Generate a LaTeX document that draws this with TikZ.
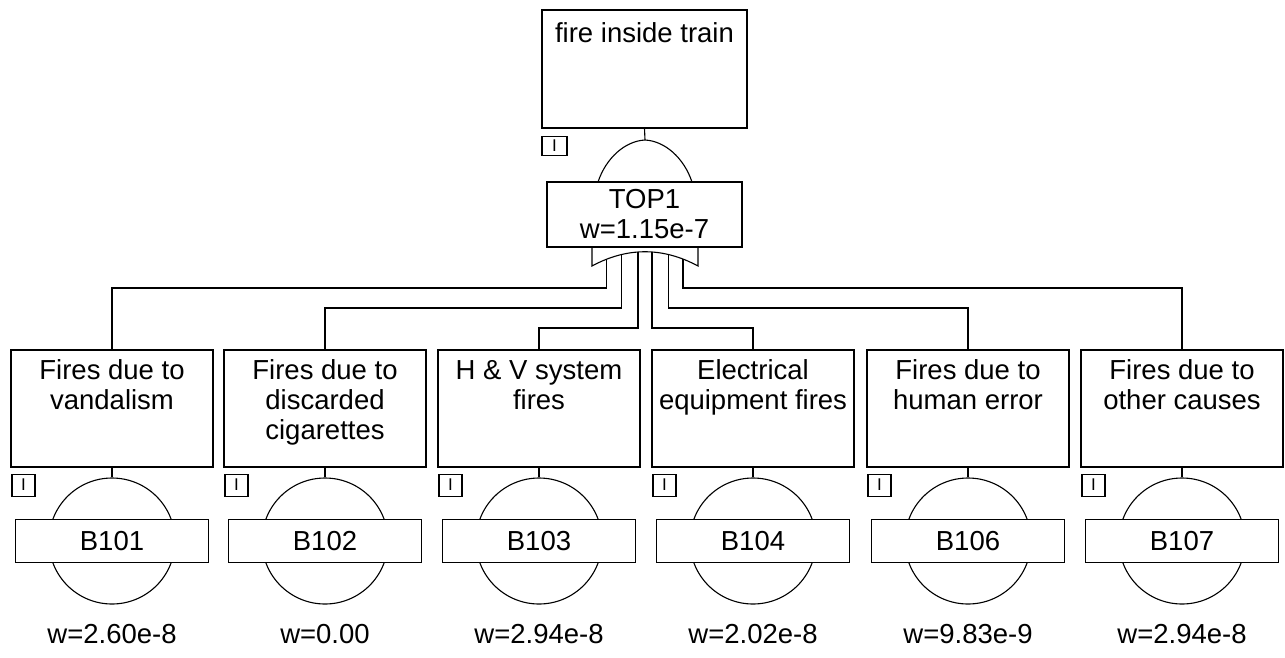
\documentclass[tikz,border=0pt]{standalone}
\usepackage{fontspec}
\setmainfont{Liberation Sans}
\usetikzlibrary{calc}
\begin{document}
\begin{tikzpicture}[x=1pt,y=-1pt, line width=1.1pt,
  every node/.style={font=\fontsize{27.5}{30}\selectfont},
  evbox/.style={draw, fill=white, minimum width=202pt, minimum height=117pt, inner sep=0pt},
  evtext/.style={anchor=north, inner sep=0pt, align=center, yshift=-10pt},
  gatebox/.style={draw, fill=white, minimum width=195pt, minimum height=65pt, inner sep=0pt, align=center},
  bbox/.style={draw, fill=white, minimum width=193pt, minimum height=43pt, inner sep=0pt},
  bcirc/.style={draw, circle, minimum size=126pt, inner sep=0pt},
  ibox/.style={draw, minimum width=23pt, minimum height=22pt, inner sep=0pt, anchor=north west, font=\fontsize{17}{17}\selectfont},
  wlbl/.style={inner sep=0pt},
  conn/.style={draw}]
\useasboundingbox (0,0) rectangle (1285,657);

% top event
\node[evbox, minimum width=205pt, minimum height=118pt,
      label={[evtext, yshift=-3pt]north:fire inside train}] (top) at (644.5,69) {};
\node[ibox, minimum width=25pt, minimum height=19pt] (itop) at ($(top.south west)+(0,7)$) {I};

% OR gate body
\coordinate (apex) at (645,140);
\draw (598,182) .. controls (606,158) and (625,141) .. (apex)
      .. controls (665,141) and (684,158) .. (692,182);
\draw (592,247) -- (592,266) .. controls (627,247) and (663,247) .. (698,266) -- (698,247);
\path (592,266) .. controls (627,247) and (663,247) .. (698,266)
  coordinate[pos=0.1415] (g1) coordinate[pos=0.283] (g2) coordinate[pos=0.434] (g3)
  coordinate[pos=0.566] (g4) coordinate[pos=0.717] (g5) coordinate[pos=0.858] (g6);
\node[gatebox] (gate) at (644.5,214.5) {TOP1\\w=1.15e-7};
\draw (top.south) -- (apex);

% intermediate events
\node[evbox, label={[evtext]north:{Fires due to\\vandalism}}] (c1) at (112,408.5) {};
\node[evbox, label={[evtext]north:{Fires due to\\discarded\\cigarettes}}] (c2) at (325,408.5) {};
\node[evbox, label={[evtext]north:{H \& V system\\fires}}] (c3) at (539,408.5) {};
\node[evbox, label={[evtext]north:{Electrical\\equipment fires}}] (c4) at (753,408.5) {};
\node[evbox, label={[evtext]north:{Fires due to\\human error}}] (c5) at (968,408.5) {};
\node[evbox, label={[evtext]north:{Fires due to\\other causes}}] (c6) at (1182,408.5) {};

\foreach \i in {1,...,6} {
  \node[ibox] (i\i) at ($(c\i.south west)+(1,6)$) {I};
}

% basic events
\foreach \i/\x in {1/112,2/325,3/539,4/753,5/968,6/1182} {
  \node[bcirc] (e\i) at (\x,541) {};
  \draw (c\i.south) -- (e\i.north);
}
\node[bbox] (b1) at (112,541) {B101};
\node[bbox] (b2) at (325,541) {B102};
\node[bbox] (b3) at (539,541) {B103};
\node[bbox] (b4) at (753,541) {B104};
\node[bbox] (b5) at (968,541) {B106};
\node[bbox] (b6) at (1182,541) {B107};

\node[wlbl] (w1) at (112,634) {w=2.60e-8};
\node[wlbl] (w2) at (325,634) {w=0.00};
\node[wlbl] (w3) at (539,634) {w=2.94e-8};
\node[wlbl] (w4) at (753,634) {w=2.02e-8};
\node[wlbl] (w5) at (968,634) {w=9.83e-9};
\node[wlbl] (w6) at (1182,634) {w=2.94e-8};

% connectors
\coordinate (L1) at (0,288);
\coordinate (L2) at (0,308);
\coordinate (L3) at (0,328);
\draw[conn] (g1) |- (c1.north |- L1) -- (c1.north);
\draw[conn] (g2) |- (c2.north |- L2) -- (c2.north);
\draw[conn] (g3) |- (c3.north |- L3) -- (c3.north);
\draw[conn] (g4) |- (c4.north |- L3) -- (c4.north);
\draw[conn] (g5) |- (c5.north |- L2) -- (c5.north);
\draw[conn] (g6) |- (c6.north |- L1) -- (c6.north);
\end{tikzpicture}
\end{document}
